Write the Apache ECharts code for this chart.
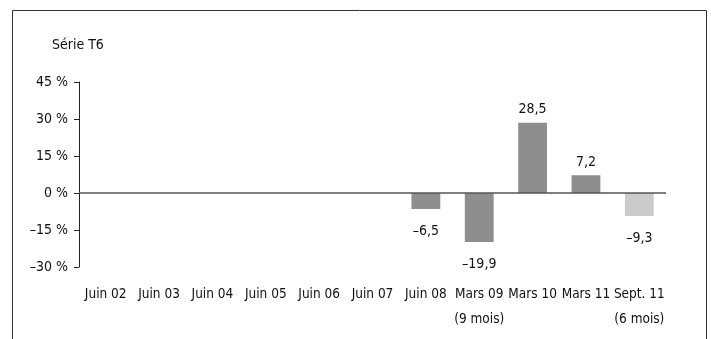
<!DOCTYPE html>
<html>
<head>
<meta charset="utf-8">
<script src="https://cdn.jsdelivr.net/npm/echarts@6/dist/echarts.min.js"></script>
<style>
  html, body { margin: 0; padding: 0; background: #fff; }
  #chart { width: 711px; height: 339px; }
</style>
</head>
<body>
<div id="chart"></div>
<script>
// catégories (axe des x)
const categories = ["Juin 02", "Juin 03", "Juin 04", "Juin 05", "Juin 06", "Juin 07",
  "Juin 08", "Mars 09\n(9 mois)", "Mars 10", "Mars 11", "Sept. 11\n(6 mois)"];
// valeurs en %
const values = [null, null, null, null, null, null, -6.5, -19.9, 28.5, 7.2, -9.3];
// dernière barre en gris clair (période partielle)
const lightIndex = [10];
const yTicks = [-30, -15, 0, 15, 30, 45];

const font = "'DejaVu Sans Condensed', 'Liberation Sans Narrow', sans-serif";
const fmt = (v) => (v < 0 ? "\u2013" : "") + Math.abs(v).toString().replace(".", ",");

const chart = echarts.init(document.getElementById("chart"));
chart.setOption({
  animation: false,
  textStyle: { fontFamily: font, color: "#111" },
  title: {
    text: "Série T6",
    left: 47,
    top: 33,
    textStyle: { fontFamily: font, fontSize: 14, fontWeight: "normal", color: "#111" },
  },
  graphic: [
    {
      type: "rect",
      shape: { x: 12.5, y: 10.5, width: 694, height: 340 },
      style: { fill: "none", stroke: "#333", lineWidth: 1 },
      silent: true,
    },
  ],
  grid: { left: 79, right: 45, top: 82, bottom: 72 },
  xAxis: {
    type: "category",
    data: categories,
    axisLine: { show: false },
    axisTick: { show: false },
    axisLabel: {
      interval: 0,
      margin: 15,
      fontSize: 13.5,
      lineHeight: 25,
      color: "#111",
      fontFamily: font,
    },
  },
  yAxis: {
    type: "value",
    min: yTicks[0],
    max: yTicks[yTicks.length - 1],
    interval: 15,
    splitLine: { show: false },
    axisLine: { show: true, lineStyle: { color: "#222", width: 1 } },
    axisTick: { show: true, length: 5, lineStyle: { color: "#222" } },
    axisLabel: {
      margin: 11,
      fontSize: 14,
      color: "#111",
      fontFamily: font,
      formatter: (v) => (v < 0 ? "\u2013" : "") + Math.abs(v) + " %",
    },
  },
  series: [
    {
      type: "bar",
      barWidth: "54%",
      data: values.map((v, i) =>
        v === null
          ? null
          : {
              value: v,
              itemStyle: { color: lightIndex.includes(i) ? "#cbcbcb" : "#8e8e8e" },
              label: {
                show: true,
                position: v >= 0 ? "top" : "bottom",
                distance: v >= 0 ? 6 : 15,
                formatter: () => fmt(v),
                fontSize: 14,
                color: "#111",
                fontFamily: font,
              },
            }
      ),
      markLine: {
        silent: true,
        symbol: "none",
        label: { show: false },
        lineStyle: { color: "#555", type: "solid", width: 1.5 },
        data: [{ yAxis: 0 }],
      },
    },
  ],
});
</script>
</body>
</html>
